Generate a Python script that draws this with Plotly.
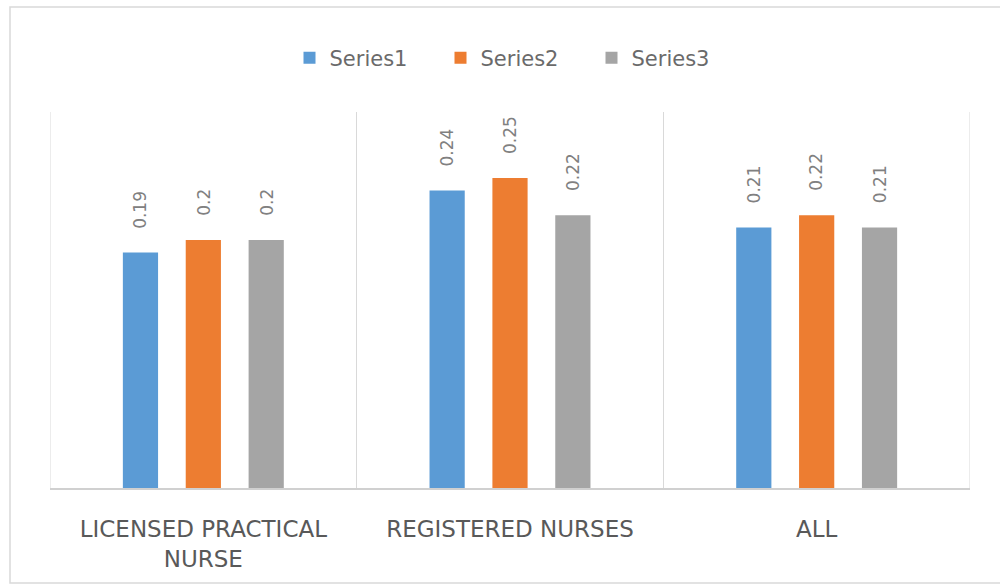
import plotly.graph_objects as go

categories = ["LICENSED PRACTICAL<br>NURSE", "REGISTERED NURSES", "ALL"]
series_names = ["Series1", "Series2", "Series3"]
series1 = [0.19, 0.24, 0.21]
series2 = [0.20, 0.25, 0.22]
series3 = [0.20, 0.22, 0.21]
series_values = [series1, series2, series3]
colors = ["#5b9bd5", "#ed7d31", "#a5a5a5"]

BARGAP = 0.385
BARGROUPGAP = 0.44
slot = (1 - BARGAP) / len(series_values)

fig = go.Figure()
for name, vals, col in zip(series_names, series_values, colors):
    fig.add_trace(go.Bar(name=name, x=categories, y=vals, marker_color=col,
                         marker_line_width=0))

label_font = dict(family="DejaVu Sans, sans-serif", size=17, color="#808080")
annotations = []
for j, vals in enumerate(series_values):
    for i, v in enumerate(vals):
        annotations.append(dict(
            x=i + (j - (len(series_values) - 1) / 2) * slot, y=v,
            xref="x", yref="y", text=f"{v:g}", showarrow=False,
            textangle=-90, xanchor="center", yanchor="bottom", yshift=22,
            font=label_font))

# outer chart frame (paper coords relative to plot area)
L, R, T, B = 50, 970, 112, 488
W, H = R - L, B - T
def px(xp): return (xp - L) / W
def py(yp): return (B - yp) / H
grid_col = "#d9d9d9"
shapes = [dict(type="rect", xref="paper", yref="paper",
               x0=px(10), x1=px(1010), y0=py(583), y1=py(7),
               line=dict(color=grid_col, width=1.5), layer="below")]
# edge gridlines of the plot area (category boundaries at both ends)
for xb in (-0.5, len(categories) - 0.5):
    shapes.append(dict(type="line", xref="x", yref="paper", x0=xb, x1=xb, y0=0, y1=1,
                       line=dict(color=grid_col, width=1), layer="below"))

fig.update_layout(
    width=1000, height=587,
    margin=dict(l=L, r=1000 - R, t=T, b=587 - B),
    paper_bgcolor="white", plot_bgcolor="white",
    barmode="group", bargap=BARGAP, bargroupgap=BARGROUPGAP,
    showlegend=True,
    legend=dict(orientation="h", x=px(516), xanchor="center", y=py(58), yanchor="middle",
                font=dict(family="DejaVu Sans, sans-serif", size=21, color="#6a6a6a"),
                entrywidth=106, entrywidthmode="pixels",
                itemsizing="constant", traceorder="normal"),
    xaxis=dict(type="category", tickson="boundaries", showgrid=True, gridcolor=grid_col,
               gridwidth=1, showline=True, linecolor="#d0d0d0", linewidth=1.5,
               ticks="", ticklabelstandoff=20,
               tickfont=dict(family="DejaVu Sans, sans-serif", size=23, color="#595959"),
               range=[-0.5, 2.5]),
    yaxis=dict(range=[0, H / 1240], showgrid=False, showticklabels=False,
               zeroline=False, showline=False),
    annotations=annotations, shapes=shapes,
)

fig.write_html("out.html")
